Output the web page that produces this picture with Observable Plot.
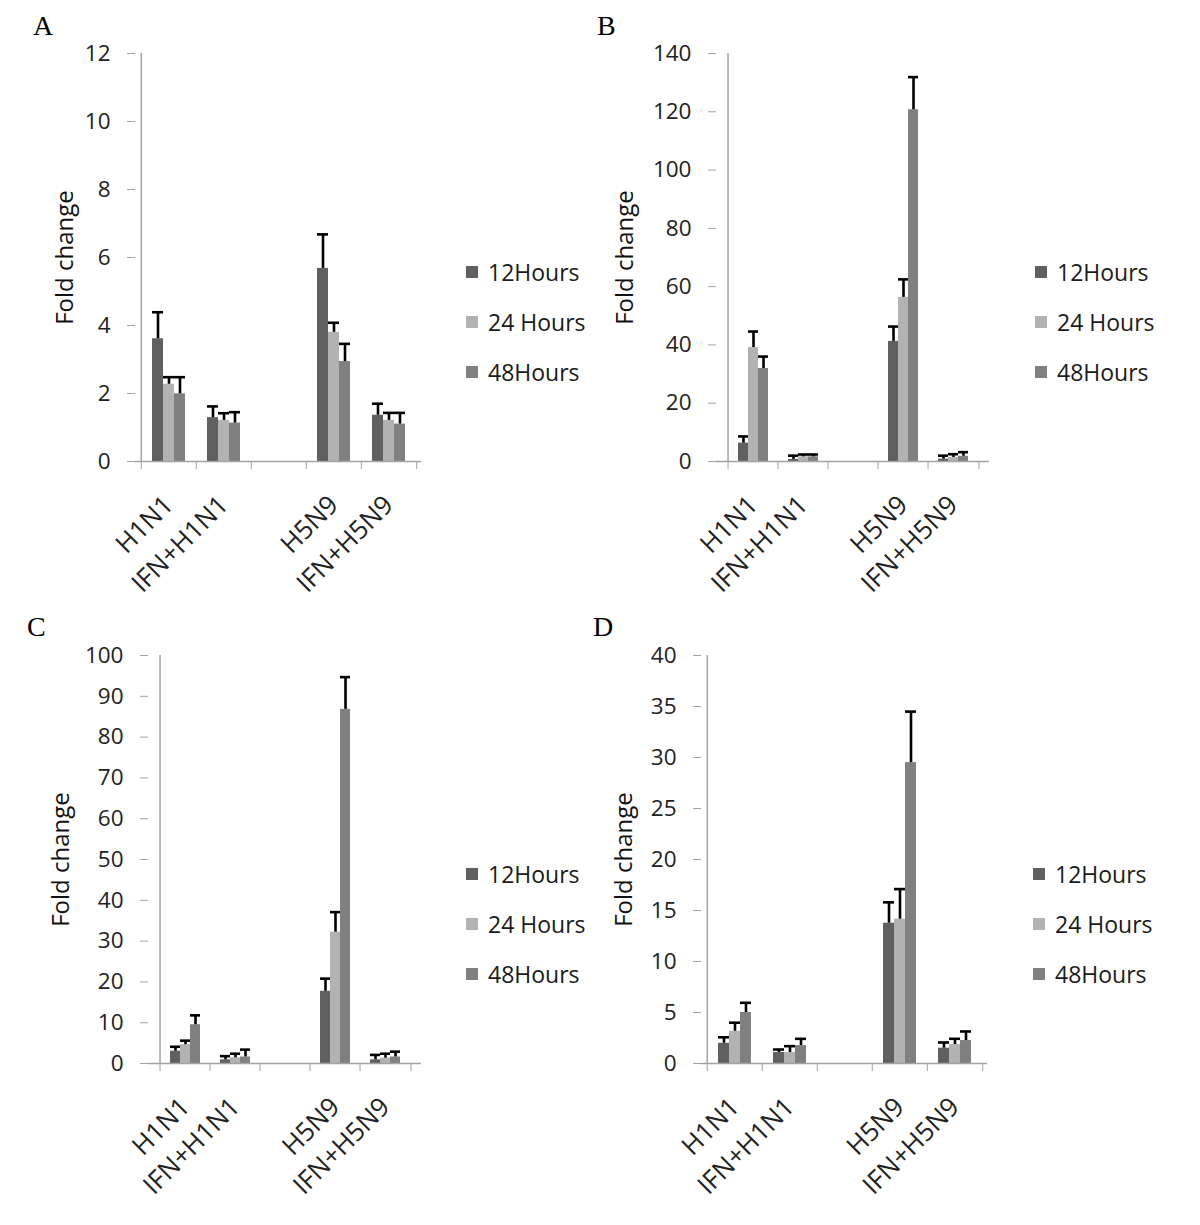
<!DOCTYPE html>
<html><head><meta charset="utf-8">
<script src="https://cdn.jsdelivr.net/npm/d3@7"></script>
<script src="https://cdn.jsdelivr.net/npm/@observablehq/plot@0.6"></script>
<style>
body{margin:0;background:#fff}
#root{position:relative;width:1200px;height:1225px;background:#fff;overflow:hidden}
.panel{position:absolute}
.letter{position:absolute;font-family:"Liberation Serif","Times New Roman",serif;font-size:28px;line-height:28px;color:#000}
.legend{position:absolute;font-family:"Open Sans",sans-serif;font-size:23px;color:#1a1a1a}
.legend .row{position:absolute;left:0;display:flex;align-items:center;height:30px;white-space:nowrap}
.legend .sw{width:12px;height:12px;margin-right:10px}
</style></head><body><div id="root"></div>
<script>
// ---- categories / series ----
const categories = ["H1N1", "IFN+H1N1", "H5N9", "IFN+H5N9"];
const slots = ["H1N1", "IFN+H1N1", null, "H5N9", "IFN+H5N9"]; // null = empty slot on the axis
const series = ["12Hours", "24 Hours", "48Hours"];
const seriesColors = ["#606060", "#b2b2b2", "#808080"];

// ---- Panel A ----
const aMean12 = [3.61, 1.29, 5.68, 1.36];
const aMean24 = [2.27, 1.21, 3.80, 1.21];
const aMean48 = [1.99, 1.13, 2.94, 1.10];
const aErr12 = [0.78, 0.33, 1.00, 0.34];
const aErr24 = [0.21, 0.21, 0.28, 0.22];
const aErr48 = [0.49, 0.32, 0.52, 0.33];
const aTicks = [0, 2, 4, 6, 8, 10, 12];

// ---- Panel B ----
const bMean12 = [6.3, 0.7, 41.2, 0.8];
const bMean24 = [39.1, 1.6, 56.3, 1.4];
const bMean48 = [31.9, 1.6, 120.7, 1.8];
const bErr12 = [2.3, 1.3, 5.1, 1.2];
const bErr24 = [5.5, 0.8, 6.2, 1.1];
const bErr48 = [4.1, 0.8, 11.2, 1.4];
const bTicks = [0, 20, 40, 60, 80, 100, 120, 140];

// ---- Panel C ----
const cMean12 = [3.0, 0.9, 17.7, 0.9];
const cMean24 = [4.6, 1.4, 32.2, 1.3];
const cMean48 = [9.5, 1.6, 86.8, 1.6];
const cErr12 = [1.1, 0.9, 3.1, 1.2];
const cErr24 = [1.0, 1.0, 4.9, 1.1];
const cErr48 = [2.3, 1.8, 7.9, 1.3];
const cTicks = [0, 10, 20, 30, 40, 50, 60, 70, 80, 90, 100];

// ---- Panel D ----
const dMean12 = [1.98, 1.08, 13.75, 1.50];
const dMean24 = [3.16, 1.08, 14.15, 1.86];
const dMean48 = [5.00, 1.76, 29.50, 2.25];
const dErr12 = [0.59, 0.29, 2.05, 0.56];
const dErr24 = [0.84, 0.62, 2.95, 0.56];
const dErr48 = [0.95, 0.66, 5.00, 0.89];
const dTicks = [0, 5, 10, 15, 20, 25, 30, 35, 40];

const yLabel = "Fold change";
const FONT = "'Open Sans', 'Liberation Sans', sans-serif";
const AXIS = "#a3a3a3";

function buildRows(means, errs) {
  const out = [];
  categories.forEach((c, i) => series.forEach((s, j) => out.push({
    cat: c, series: s, key: c + "|" + s, value: means[j][i], err: errs[j][i]
  })));
  return out;
}
const slotName = (s, i) => s ?? ("gap" + i);
const xDomain = slots.flatMap((s, i) => {
  const n = slotName(s, i);
  return [n + "|pre", ...series.map(t => n + "|" + t), n + "|post"];
});
const centerKeys = categories.map(c => c + "|" + series[1]);
const preKeys = slots.map((s, i) => slotName(s, i) + "|pre");
const lastPost = [slotName(slots[slots.length - 1], slots.length - 1) + "|post"];

function panel(cfg) {
  const root = document.getElementById("root");
  const data = buildRows(cfg.means, cfg.errs);
  const yMax = cfg.ticks[cfg.ticks.length - 1];
  const bw = (cfg.width - cfg.ml - cfg.mr) / xDomain.length;
  const chart = Plot.plot({
    width: cfg.width, height: cfg.height,
    marginLeft: cfg.ml, marginRight: cfg.mr, marginTop: cfg.mt, marginBottom: cfg.mb,
    style: {fontFamily: FONT, fontSize: "22px", color: "#222", background: "transparent", overflow: "visible"},
    x: {type: "band", domain: xDomain, padding: 0, axis: null},
    y: {domain: [0, yMax], axis: null},
    color: {domain: series, range: seriesColors},
    marks: [
      Plot.barY(data, {x: "key", y: "value", fill: "series"}),
      Plot.ruleX(data, {x: "key", y1: "value", y2: d => d.value + d.err, stroke: "#000", strokeWidth: 2.6}),
      Plot.tickY(data, {x: "key", y: d => d.value + d.err, stroke: "#000", strokeWidth: 2.6}),
      Plot.ruleY([0], {stroke: AXIS, strokeWidth: 1.5}),
      Plot.ruleX([xDomain[0]], {x: d => d, y1: 0, y2: yMax, dx: -bw / 2, stroke: AXIS, strokeWidth: 1.5}),
      Plot.axisY({ticks: cfg.ticks, tickSize: 8, tickPadding: 17, stroke: AXIS, fill: "#222", fontSize: 22.5, label: null, tickFormat: d => String(d)}),
      Plot.axisX({ticks: preKeys, tickFormat: () => "", tickSize: 8, dx: -bw / 2, stroke: AXIS, label: null}),
      Plot.axisX({ticks: lastPost, tickFormat: () => "", tickSize: 8, dx: bw / 2, stroke: AXIS, label: null}),
      Plot.axisX({ticks: centerKeys, tickFormat: k => k.split("|")[0], tickSize: 0, tickPadding: 39, tickRotate: -45, fill: "#222", fontSize: 26, label: null}),
      Plot.text([yLabel], {frameAnchor: "left", rotate: -90, dx: cfg.labelX - cfg.ml, lineAnchor: "bottom", textAnchor: "middle", fontSize: 24, fill: "#111"})
    ]
  });
  chart.classList.add("panel");
  chart.style.left = cfg.left + "px";
  chart.style.top = cfg.top + "px";
  root.appendChild(chart);

  const letter = document.createElement("div");
  letter.className = "letter";
  letter.textContent = cfg.letter;
  letter.style.left = cfg.letterX + "px";
  letter.style.top = cfg.letterY + "px";
  root.appendChild(letter);

  const legend = document.createElement("div");
  legend.className = "legend";
  legend.style.left = cfg.legendX + "px";
  legend.style.top = cfg.legendY + "px";
  series.forEach((s, j) => {
    const row = document.createElement("div");
    row.className = "row";
    row.style.top = (j * 50) + "px";
    const sw = document.createElement("span");
    sw.className = "sw";
    sw.style.background = seriesColors[j];
    const tx = document.createElement("span");
    tx.textContent = s;
    row.appendChild(sw); row.appendChild(tx);
    legend.appendChild(row);
  });
  root.appendChild(legend);
}

panel({letter: "A", letterX: 33, letterY: 12, left: 0, top: 0, width: 600, height: 600, ml: 135, mr: 179, mt: 53, mb: 139,
  means: [aMean12, aMean24, aMean48], errs: [aErr12, aErr24, aErr48], ticks: aTicks, labelX: 72, legendX: 466, legendY: 257});
panel({letter: "B", letterX: 597, letterY: 12, left: 600, top: 0, width: 600, height: 600, ml: 116, mr: 211, mt: 53, mb: 139,
  means: [bMean12, bMean24, bMean48], errs: [bErr12, bErr24, bErr48], ticks: bTicks, labelX: 32, legendX: 1035, legendY: 257});
panel({letter: "C", letterX: 27, letterY: 613, left: 0, top: 600, width: 600, height: 625, ml: 148, mr: 179, mt: 55, mb: 162,
  means: [cMean12, cMean24, cMean48], errs: [cErr12, cErr24, cErr48], ticks: cTicks, labelX: 68, legendX: 466, legendY: 859});
panel({letter: "D", letterX: 593, letterY: 613, left: 600, top: 600, width: 600, height: 625, ml: 101, mr: 213, mt: 55, mb: 162,
  means: [dMean12, dMean24, dMean48], errs: [dErr12, dErr24, dErr48], ticks: dTicks, labelX: 31, legendX: 1033, legendY: 859});
</script></body></html>
